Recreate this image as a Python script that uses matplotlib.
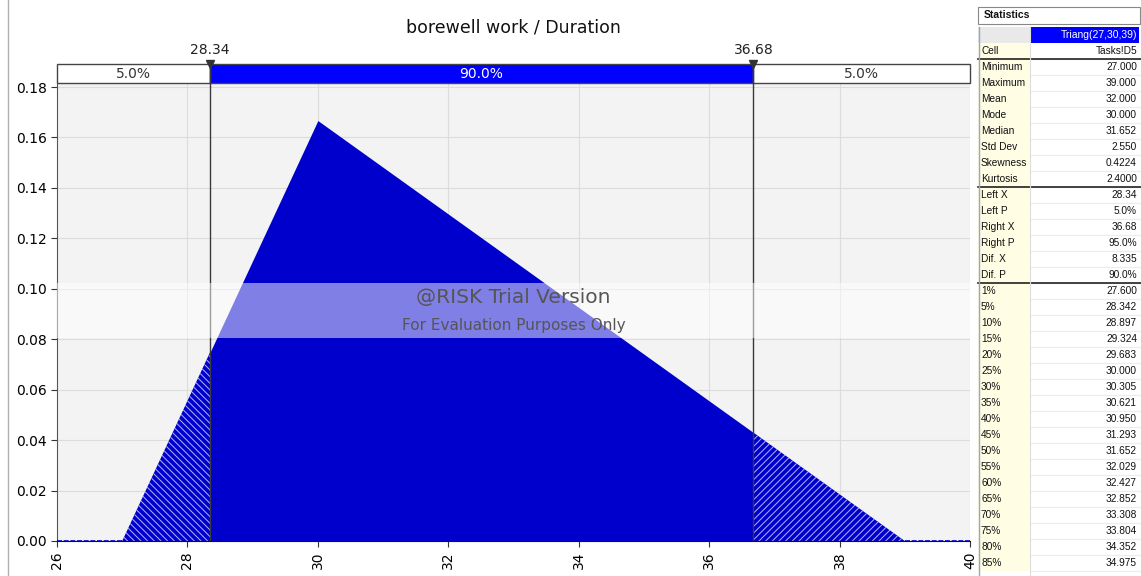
import matplotlib.pyplot as plt
from matplotlib.patches import Rectangle
from matplotlib.lines import Line2D

# distribution shape (Triang(27,30,39))
dist_x = [26, 27, 30, 39, 40]
dist_y = [0, 0, 0.1667, 0, 0]
left_x = 28.34
right_x = 36.68
band_pcts = ["5.0%", "90.0%", "5.0%"]

# statistics panel
stat_labels = ["Cell", "Minimum", "Maximum", "Mean", "Mode", "Median", "Std Dev",
               "Skewness", "Kurtosis", "Left X", "Left P", "Right X", "Right P",
               "Dif. X", "Dif. P"]
stat_values = ["Tasks!D5", "27.000", "39.000", "32.000", "30.000", "31.652", "2.550",
               "0.4224", "2.4000", "28.34", "5.0%", "36.68", "95.0%", "8.335", "90.0%"]
pct_labels = ["1%", "5%", "10%", "15%", "20%", "25%", "30%", "35%", "40%", "45%",
              "50%", "55%", "60%", "65%", "70%", "75%", "80%", "85%"]
pct_values = ["27.600", "28.342", "28.897", "29.324", "29.683", "30.000", "30.305",
              "30.621", "30.950", "31.293", "31.652", "32.029", "32.427", "32.852",
              "33.308", "33.804", "34.352", "34.975"]

W, H = 1141, 576
fig = plt.figure(figsize=(W / 100, H / 100), dpi=100)
fig.patch.set_facecolor("white")

def px(x0, y0, x1, y1):
    # pixel box (top-left origin) -> figure fraction rect
    return [x0 / W, 1 - y1 / H, (x1 - x0) / W, (y1 - y0) / H]

# ---- main chart ----
ax = fig.add_axes(px(57, 84, 970, 541))
ax.set_facecolor("#f3f3f3")
ax.set_xlim(26, 40)
ax.set_ylim(0, 0.1812)
ax.set_xticks(range(26, 41, 2))
ax.set_yticks([i * 0.02 for i in range(10)])
ax.set_yticklabels([f"{i * 0.02:.2f}" for i in range(10)])
ax.grid(True, color="#dcdcdc", linewidth=0.8)
ax.set_axisbelow(True)
ax.tick_params(axis="x", labelrotation=90, labelsize=10, length=4, color="#333333")
ax.tick_params(axis="y", labelsize=10, length=4, color="#333333")
for s in ["top", "right"]:
    ax.spines[s].set_visible(False)
ax.spines["left"].set_color("#555555")
ax.spines["bottom"].set_color("#111111")

plt.rcParams["hatch.linewidth"] = 0.7

# hatched tails: blue with thin light stripes (5 chars -> 30 lines per inch)
for lo, hi, hatch in [(26, left_x, "\\" * 5), (right_x, 40, "/" * 5)]:
    tail = ax.fill_between(dist_x, dist_y, 0, facecolor="#0000cc", edgecolor="#b4b4ff",
                           hatch=hatch, linewidth=0, zorder=2)
    tail.set_clip_path(Rectangle((lo, 0), hi - lo, 1, transform=ax.transData))

# solid middle 90%
mid = ax.fill_between(dist_x, dist_y, 0, color="#0000cc", linewidth=0, zorder=3)
mid.set_clip_path(Rectangle((left_x, 0), right_x - left_x, 1, transform=ax.transData))

# dashed baseline where density is zero
ax.plot(dist_x[:2], dist_y[:2], color="#0000cc", linestyle=(0, (3, 1)), linewidth=1.2, zorder=4)
ax.plot(dist_x[3:], dist_y[3:], color="#0000cc", linestyle=(0, (3, 1)), linewidth=1.2, zorder=4)

for xv in (left_x, right_x):
    ax.axvline(xv, color="#3a3a3a", linewidth=1, zorder=5)

# trial-version watermark
ax.add_patch(Rectangle((0, 0.444), 1, 0.1204, transform=ax.transAxes,
                       facecolor="white", alpha=0.5, linewidth=0, zorder=6))
ax.text(0.5, 0.532, "@RISK Trial Version", transform=ax.transAxes, ha="center",
        va="center", fontsize=14.5, color="#555555", zorder=7)
ax.text(0.5, 0.4726, "For Evaluation Purposes Only", transform=ax.transAxes,
        ha="center", va="center", fontsize=11, color="#555555", zorder=7)

# ---- percentage band above chart ----
band = fig.add_axes(px(57, 64, 970, 83))
band.set_xlim(26, 40)
band.set_ylim(0, 1)
band.axis("off")
edges = [26, left_x, right_x, 40]
fills = ["white", "#0000ff", "white"]
tcols = ["#333333", "white", "#333333"]
for i in range(3):
    band.add_patch(Rectangle((edges[i], 0), edges[i + 1] - edges[i], 1, facecolor=fills[i],
                             edgecolor="#444444", linewidth=1, clip_on=False))
    band.text((edges[i] + edges[i + 1]) / 2, 0.45, band_pcts[i], ha="center", va="center",
              fontsize=10, color=tcols[i])
for xv in (left_x, right_x):
    band.plot([xv, xv], [0, 1], color="#3a3a3a", linewidth=1, clip_on=False)
    band.plot(xv, 1, marker="v", color="#333333", markersize=6, clip_on=False)
    band.text(xv, 1.35, f"{xv:.2f}", ha="center", va="bottom", fontsize=10, color="#222222")

fig.text(513 / W, 1 - 28 / H, "borewell work / Duration", ha="center", va="center",
         fontsize=12.5, color="#111111")

# window border on the left
fig.add_artist(Line2D([8 / W, 8 / W], [0, 1], color="#b0b0b0", linewidth=1))

# ---- statistics panel ----
pn = fig.add_axes([0, 0, 1, 1])
pn.set_xlim(0, W)
pn.set_ylim(H, 0)
pn.axis("off")
pn.patch.set_alpha(0)
fnt = dict(family="Liberation Sans", fontsize=7.3, color="#111111")

pn.add_patch(Rectangle((978, 7), 162, 17, facecolor="white", edgecolor="#888888", linewidth=0.8))
pn.text(984, 15.5, "Statistics", va="center", ha="left", fontweight="bold",
        family="Liberation Sans", fontsize=7.5, color="#111111")
pn.add_patch(Rectangle((978, 27), 52, 16, facecolor="#e9e9e9", linewidth=0))
pn.add_patch(Rectangle((1030, 27), 109, 16, facecolor="#0000ff", linewidth=0))
pn.text(1137, 35, "Triang(27,30,39)", va="center", ha="right", family="Liberation Sans",
        fontsize=7.5, color="white")

labels = stat_labels + pct_labels
values = stat_values + pct_values
top = 43
row_h = 16
pn.add_patch(Rectangle((978, top), 52, row_h * len(labels), facecolor="#fffde3", linewidth=0))
for i, (lab, val) in enumerate(zip(labels, values)):
    y0 = top + i * row_h
    pn.text(981, y0 + row_h / 2, lab, va="center", ha="left", **fnt)
    pn.text(1137, y0 + row_h / 2, val, va="center", ha="right", **fnt)
    pn.plot([1030, 1141], [y0 + row_h, y0 + row_h], color="#ececec", linewidth=0.8)
for idx in (1, 9, 15):
    yy = top + idx * row_h
    pn.plot([978, 1141], [yy, yy], color="#222222", linewidth=1.2)
pn.plot([1030, 1030], [27, H], color="#dddddd", linewidth=0.8)
pn.plot([978.5, 978.5], [27, H], color="#9aa6c8", linewidth=1)

fig.savefig("out.png", dpi=100)
